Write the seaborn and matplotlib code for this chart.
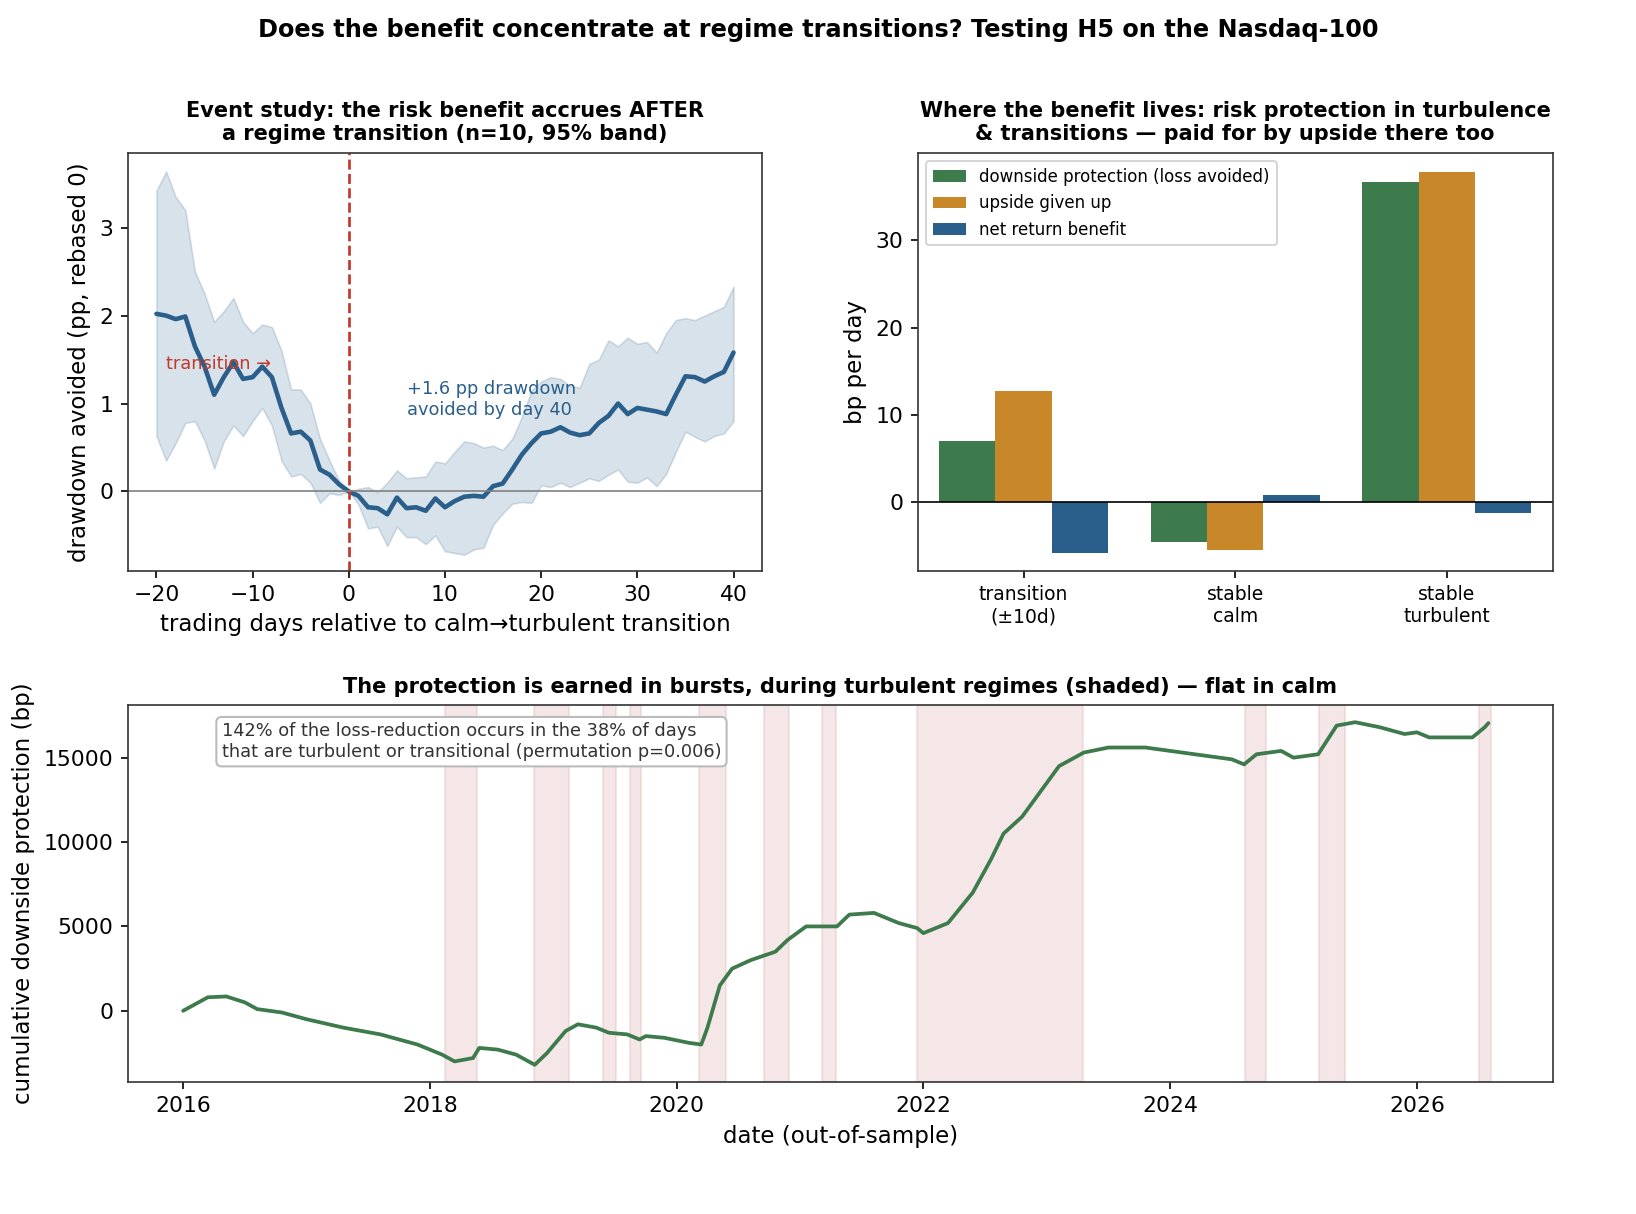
import numpy as np
import pandas as pd
import matplotlib
matplotlib.use("Agg")
from matplotlib import pyplot as plt
import seaborn as sns

sns.set_style("ticks")
plt.rcParams['font.family'] = ['DejaVu Sans']
plt.rcParams.update({"text.color": "black", "axes.labelcolor": "black",
                     "xtick.color": "black", "ytick.color": "black",
                     "axes.edgecolor": "#333333"})

# event study
days = list(range(-20, 41))
ev_mean = [2.02, 2.0, 1.96, 1.99, 1.65, 1.42, 1.1, 1.3, 1.47, 1.28, 1.3, 1.42, 1.3, 0.95, 0.66, 0.68, 0.58,
           0.25, 0.19, 0.08, 0.0, -0.05, -0.18, -0.19, -0.26, -0.07, -0.19, -0.18, -0.22, -0.08, -0.18,
           -0.11, -0.06, -0.05, -0.06, 0.06, 0.09, 0.25, 0.42, 0.55, 0.66, 0.68, 0.73, 0.67, 0.64, 0.66,
           0.78, 0.86, 1.0, 0.88, 0.95, 0.93, 0.91, 0.88, 1.1, 1.31, 1.3, 1.25, 1.31, 1.36, 1.58]
ev_hi = [3.42, 3.64, 3.35, 3.2, 2.5, 2.25, 1.93, 2.05, 2.2, 1.93, 1.8, 1.9, 1.87, 1.6, 1.16, 1.16, 1.0,
         0.6, 0.35, 0.12, 0.0, 0.03, 0.05, -0.01, 0.1, 0.24, 0.15, 0.16, 0.17, 0.34, 0.32, 0.45, 0.57,
         0.55, 0.5, 0.52, 0.47, 0.6, 0.85, 1.15, 1.25, 1.3, 1.28, 1.2, 1.18, 1.45, 1.5, 1.72, 1.65, 1.75,
         1.68, 1.7, 1.58, 1.8, 1.95, 1.97, 1.95, 2.0, 2.05, 2.1, 2.33]
ev_lo = [0.63, 0.35, 0.55, 0.78, 0.8, 0.58, 0.26, 0.57, 0.75, 0.63, 0.8, 0.95, 0.75, 0.35, 0.17, 0.2, 0.1,
         -0.13, -0.02, -0.04, 0.0, -0.15, -0.42, -0.4, -0.62, -0.4, -0.52, -0.52, -0.6, -0.5, -0.68,
         -0.7, -0.72, -0.66, -0.64, -0.38, -0.25, -0.14, -0.12, -0.13, 0.07, 0.05, 0.1, 0.05, 0.1, 0.15,
         0.12, 0.19, 0.25, 0.11, 0.1, 0.16, 0.06, 0.2, 0.45, 0.68, 0.62, 0.57, 0.63, 0.66, 0.8]

# regime bars
regimes = ["transition\n(±10d)", "stable\ncalm", "stable\nturbulent"]
series = ["downside protection (loss avoided)", "upside given up", "net return benefit"]
downside = [7.0, -4.5, 36.7]
upside = [12.8, -5.5, 37.8]
net = [-5.8, 0.9, -1.2]

# cumulative protection (year, bp)
cum_year = [2016.0, 2016.1, 2016.2, 2016.35, 2016.5, 2016.6, 2016.8, 2017.0, 2017.3, 2017.6, 2017.9, 2018.1,
            2018.2, 2018.35, 2018.4, 2018.55, 2018.7, 2018.85, 2018.95, 2019.1, 2019.2, 2019.35, 2019.45,
            2019.6, 2019.7, 2019.75, 2019.9, 2020.1, 2020.2, 2020.25, 2020.35, 2020.45, 2020.6, 2020.8,
            2020.9, 2021.05, 2021.3, 2021.4, 2021.6, 2021.8, 2021.95, 2022.0, 2022.2, 2022.4, 2022.55,
            2022.65, 2022.8, 2022.95, 2023.1, 2023.3, 2023.5, 2023.8, 2024.0, 2024.3, 2024.5, 2024.6,
            2024.7, 2024.9, 2025.0, 2025.2, 2025.35, 2025.5, 2025.7, 2025.9, 2026.0, 2026.1, 2026.45,
            2026.55, 2026.58]
cum_bp = [0, 400, 800, 850, 500, 100, -100, -500, -1000, -1400, -2000, -2600,
          -3000, -2800, -2200, -2300, -2600, -3200, -2500, -1200, -800, -1000, -1300,
          -1400, -1700, -1500, -1600, -1900, -2000, -1000, 1500, 2500, 3000, 3500,
          4200, 5000, 5000, 5700, 5800, 5200, 4900, 4600, 5200, 7000, 9000,
          10500, 11500, 13000, 14500, 15300, 15600, 15600, 15400, 15100, 14900, 14600,
          15200, 15400, 15000, 15200, 16900, 17100, 16800, 16400, 16500, 16200, 16200,
          16800, 17050]
turb_start = [2018.12, 2018.84, 2019.40, 2019.62, 2020.18, 2020.71, 2021.18, 2021.95, 2024.61, 2025.21, 2026.50]
turb_end = [2018.38, 2019.13, 2019.51, 2019.71, 2020.40, 2020.91, 2021.29, 2023.29, 2024.78, 2025.42, 2026.60]

BLUE = "#2a5f8c"
GREEN = "#3d7a4c"
ORANGE = "#c8882a"
RED = "#c0392b"

fig = plt.figure(figsize=(16.36 / 1.5, 12.14 / 1.5), dpi=150)
fig.suptitle("Does the benefit concentrate at regime transitions? Testing H5 on the Nasdaq-100",
             fontsize=11.5, fontweight="bold", y=0.985)

# --- event study
ax1 = fig.add_axes([0.078, 0.530, 0.388, 0.344])
ev = pd.DataFrame({"day": days, "mean": ev_mean})
ax1.fill_between(days, ev_lo, ev_hi, color=BLUE, alpha=0.18, edgecolor=BLUE, linewidth=0.8)
sns.lineplot(data=ev, x="day", y="mean", ax=ax1, color=BLUE, linewidth=2.2)
ax1.axvline(0, color=RED, linestyle="--", linewidth=1.3)
ax1.axhline(0, color="gray", linewidth=0.8)
ax1.text(-19, 1.45, "transition →", color=RED, fontsize=8.5, va="center")
ax1.text(6, 1.05, "+1.6 pp drawdown\navoided by day 40", color=BLUE, fontsize=8.5, va="center")
ax1.set_xlim(-23, 43)
ax1.set_ylim(-0.9, 3.85)
ax1.set_yticks([0, 1, 2, 3])
ax1.set_xlabel("trading days relative to calm→turbulent transition", fontsize=11)
ax1.set_ylabel("drawdown avoided (pp, rebased 0)", fontsize=11)
ax1.set_title("Event study: the risk benefit accrues AFTER\na regime transition (n=10, 95% band)",
              fontsize=10, fontweight="bold")
ax1.tick_params(labelsize=10.5)

# --- bars
ax2 = fig.add_axes([0.561, 0.530, 0.388, 0.344])
bars = pd.DataFrame({
    "regime": regimes * 3,
    "series": [s for s in series for _ in regimes],
    "bp": downside + upside + net,
})
sns.barplot(data=bars, x="regime", y="bp", hue="series", ax=ax2,
            palette=[GREEN, ORANGE, BLUE], saturation=1, gap=0, linewidth=0)
ax2.axhline(0, color="black", linewidth=0.8)
ax2.set_xlabel("")
ax2.set_ylabel("bp per day", fontsize=11)
ax2.set_ylim(-7.8, 40)
ax2.set_yticks([0, 10, 20, 30])
ax2.tick_params(axis="x", labelsize=9)
ax2.tick_params(axis="y", labelsize=10.5)
ax2.legend(loc="upper left", fontsize=8, title=None)
ax2.set_title("Where the benefit lives: risk protection in turbulence\n& transitions — paid for by upside there too",
              fontsize=10, fontweight="bold")

# --- cumulative
ax3 = fig.add_axes([0.078, 0.109, 0.871, 0.310])
for s, e in zip(turb_start, turb_end):
    ax3.axvspan(s, e, color="#d9a0a0", alpha=0.25)
cum = pd.DataFrame({"year": cum_year, "bp": cum_bp})
sns.lineplot(data=cum, x="year", y="bp", ax=ax3, color=GREEN, linewidth=1.8)
ax3.set_xlim(2015.55, 2027.1)
ax3.set_ylim(-4200, 18100)
ax3.set_xticks([2016, 2018, 2020, 2022, 2024, 2026])
ax3.set_yticks([0, 5000, 10000, 15000])
ax3.set_xlabel("date (out-of-sample)", fontsize=11)
ax3.set_ylabel("cumulative downside protection (bp)", fontsize=11)
ax3.tick_params(labelsize=10.5)
ax3.set_title("The protection is earned in bursts, during turbulent regimes (shaded) — flat in calm",
              fontsize=10, fontweight="bold")
ax3.text(0.066, 0.955, "142% of the loss-reduction occurs in the 38% of days\nthat are turbulent or transitional (permutation p=0.006)",
         transform=ax3.transAxes, fontsize=8.5, va="top", color="#333333",
         bbox=dict(boxstyle="round,pad=0.3", facecolor="white", edgecolor="#bbbbbb"))

fig.savefig("out.png", dpi=150)
